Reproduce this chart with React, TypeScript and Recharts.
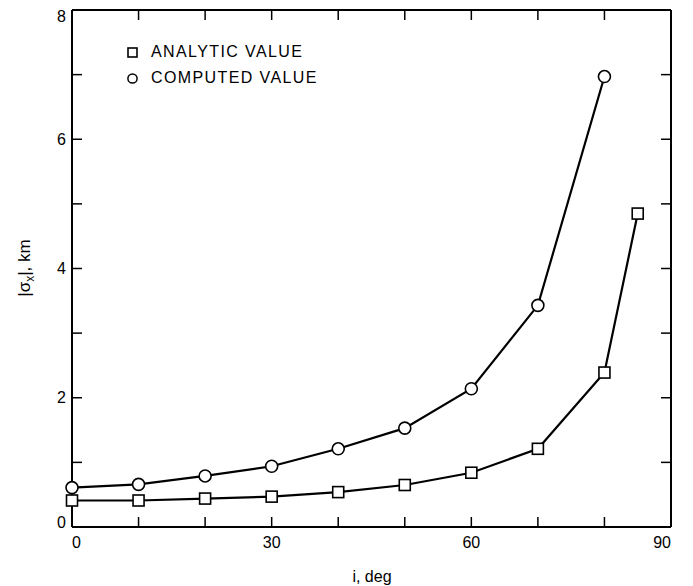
import { LineChart, Line, XAxis, YAxis } from "recharts";

const INK = "#000";
const FONT = "'Liberation Sans', Arial, Helvetica, sans-serif";

// inclination, deg
const computedIncl = [0, 10, 20, 30, 40, 50, 60, 70, 80];
const computedSigma = [0.61, 0.66, 0.79, 0.94, 1.21, 1.53, 2.14, 3.43, 6.97];
const analyticIncl = [0, 10, 20, 30, 40, 50, 60, 70, 80, 85];
const analyticSigma = [0.41, 0.41, 0.44, 0.47, 0.54, 0.65, 0.84, 1.21, 2.39, 4.85];

const xTicks = [0, 10, 20, 30, 40, 50, 60, 70, 80, 90];
const xLabelled = [0, 30, 60, 90];
const yTicks = [0, 1, 2, 3, 4, 5, 6, 7, 8];
const yLabelled = [0, 2, 4, 6, 8];

const computed = computedIncl.map((i, k) => ({ i, v: computedSigma[k] }));
const analytic = analyticIncl.map((i, k) => ({ i, v: analyticSigma[k] }));

const TICK = 10;

function BottomTick(props: any) {
  const { x, y, payload } = props;
  const v = payload.value;
  const anchor = v === 0 ? "start" : v === 90 ? "end" : "middle";
  return (
    <g>
      <path d={`M${x},${y}V${y - TICK}`} stroke={INK} strokeWidth={1.5} fill="none" />
      {xLabelled.includes(v) ? (
        <text x={x} y={y + 21} textAnchor={anchor} fontSize={16} fontFamily={FONT} fill={INK}>{v}</text>
      ) : null}
    </g>
  );
}

function TopTick(props: any) {
  const { x, y } = props;
  return <path d={`M${x},${y}V${y + TICK}`} stroke={INK} strokeWidth={1.5} fill="none" />;
}

function LeftTick(props: any) {
  const { x, y, payload } = props;
  const v = payload.value;
  const base = v === 0 ? y + 1 : v === 8 ? y + 11.5 : y + 5.5;
  return (
    <g>
      <path d={`M${x},${y}H${x + TICK}`} stroke={INK} strokeWidth={1.5} fill="none" />
      {yLabelled.includes(v) ? (
        <text x={x - 6} y={base} textAnchor="end" fontSize={16} fontFamily={FONT} fill={INK}>{v}</text>
      ) : null}
    </g>
  );
}

function RightTick(props: any) {
  const { x, y } = props;
  return <path d={`M${x},${y}H${x - TICK}`} stroke={INK} strokeWidth={1.5} fill="none" />;
}

function SquareDot({ cx, cy }: any) {
  if (cx == null || cy == null) return null;
  return <rect x={cx - 5.5} y={cy - 5.5} width={11} height={11} fill="#fff" stroke={INK} strokeWidth={1.6} />;
}

function CircleDot({ cx, cy }: any) {
  if (cx == null || cy == null) return null;
  return <circle cx={cx} cy={cy} r={6} fill="#fff" stroke={INK} strokeWidth={1.6} />;
}

function AxisTitles() {
  return (
    <svg width={693} height={586} style={{ position: "absolute", left: 0, top: 0, pointerEvents: "none" }}>
      <text transform="translate(30,268) rotate(-90)" textAnchor="middle" fontSize={17} fontFamily={FONT} fill={INK}>
        |σ<tspan fontSize={12} dy={4}>x</tspan><tspan dy={-4}>|, km</tspan>
      </text>
      <text x={372} y={582} textAnchor="middle" fontSize={16} fontFamily={FONT} fill={INK}>i, deg</text>
    </svg>
  );
}

function LegendBox() {
  const row = { display: "flex", alignItems: "center", height: 26 } as const;
  const txt = { fontFamily: FONT, fontSize: 16, letterSpacing: 1.4, color: INK, marginLeft: 13 };
  return (
    <div style={{ position: "absolute", left: 127, top: 39 }}>
      <div style={row}>
        <svg width={11} height={11}><rect x={1} y={1} width={9} height={9} fill="#fff" stroke={INK} strokeWidth={1.6} /></svg>
        <span style={txt}>ANALYTIC VALUE</span>
      </div>
      <div style={row}>
        <svg width={11} height={11}><circle cx={5.5} cy={5.5} r={4.6} fill="#fff" stroke={INK} strokeWidth={1.5} /></svg>
        <span style={txt}>COMPUTED VALUE</span>
      </div>
    </div>
  );
}

export default function App() {
  const axisLine = { stroke: INK, strokeWidth: 2 };
  return (
    <div style={{ position: "absolute", left: 0, top: 0, width: 693, height: 586, background: "#fff" }}>
      <LineChart width={693} height={586} margin={{ top: 9, right: 21, left: 0, bottom: 0 }}>
        <XAxis xAxisId="b" dataKey="i" type="number" domain={[0, 90]} ticks={xTicks} height={59} orientation="bottom"
          axisLine={axisLine} tickLine={false} tickSize={0} tickMargin={0} tick={<BottomTick />} interval={0} />
        <XAxis xAxisId="t" dataKey="i" type="number" domain={[0, 90]} ticks={xTicks} orientation="top" height={1}
          axisLine={axisLine} tickLine={false} tickSize={0} tickMargin={0} tick={<TopTick />} interval={0} />
        <YAxis yAxisId="l" type="number" domain={[0, 8]} ticks={yTicks} width={72}
          axisLine={axisLine} tickLine={false} tickSize={0} tickMargin={0} tick={<LeftTick />} interval={0} />
        <YAxis yAxisId="r" type="number" domain={[0, 8]} ticks={yTicks} orientation="right" width={1}
          axisLine={axisLine} tickLine={false} tickSize={0} tickMargin={0} tick={<RightTick />} interval={0} />
        <Line xAxisId="t" yAxisId="r" data={analytic} dataKey="v" stroke="none" dot={false}
          activeDot={false} legendType="none" isAnimationActive={false} />
        <Line xAxisId="b" yAxisId="l" data={analytic} dataKey="v" stroke={INK} strokeWidth={2.2}
          dot={<SquareDot />} activeDot={false} isAnimationActive={false} />
        <Line xAxisId="b" yAxisId="l" data={computed} dataKey="v" stroke={INK} strokeWidth={2.2}
          dot={<CircleDot />} activeDot={false} isAnimationActive={false} />
      </LineChart>
      <AxisTitles />
      <LegendBox />
    </div>
  );
}
